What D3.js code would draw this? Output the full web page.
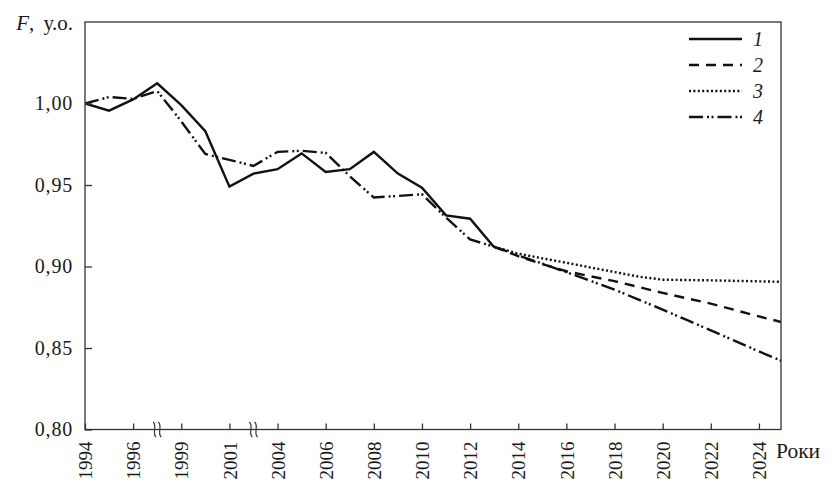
<!DOCTYPE html>
<html>
<head>
<meta charset="utf-8">
<script src="https://cdn.jsdelivr.net/npm/d3@7"></script>
<style>
  body { margin: 0; background: #fff; }
  svg { display: block; }
  text { font-family: "Liberation Serif", "DejaVu Serif", serif; fill: #1a1a1a; }
</style>
</head>
<body>
<svg id="chart" width="827" height="481"></svg>
<script>
// Year slots along the x axis (1998 and 2003 are cut out by axis breaks)
const years = ["1994","1995","1996","1997","1999","2000","2001","2002","2004","2005",
               "2006","2007","2008","2009","2010","2011","2012","2013","2014","2015",
               "2016","2017","2018","2019","2020","2021","2022","2023","2024","2025"];
const tickYears = ["1994","1996","1999","2001","2004","2006","2008","2010","2012",
                   "2014","2016","2018","2020","2022","2024"];
const breakYears = ["1997","2002"];
const yTicks = [0.80, 0.85, 0.90, 0.95, 1.00];

// Series 1: actual values (solid)
const series1 = [1.000, 0.9956, 1.0025, 1.0124, 0.999, 0.983, 0.949, 0.957, 0.9597, 0.9694,
                 0.958, 0.9597, 0.9703, 0.957, 0.9484, 0.9314, 0.9293, 0.9118,
                 null, null, null, null, null, null, null, null, null, null, null, null];
// Series 2: forecast (dashed)
const series2 = [null, null, null, null, null, null, null, null, null, null,
                 null, null, null, null, null, null, null, 0.9121, 0.9063, 0.9015,
                 0.8971, 0.8940, 0.8910, 0.8874, 0.8838, 0.8805, 0.8772, 0.8733, 0.8694, 0.8657];
// Series 3: forecast (dotted)
const series3 = [null, null, null, null, null, null, null, null, null, null,
                 null, null, null, null, null, null, null, 0.9121, 0.9079, 0.9050,
                 0.9023, 0.8994, 0.8966, 0.8938, 0.8919, 0.8917, 0.8915, 0.8912, 0.8909, 0.8906];
// Series 4: model + forecast (dash-dot)
const series4 = [1.000, 1.004, 1.0028, 1.0077, 0.989, 0.969, 0.9654, 0.9617, 0.9703, 0.971,
                 0.9697, 0.9554, 0.9423, 0.9433, 0.9443, 0.930, 0.9166, 0.9121, 0.9068, 0.9018,
                 0.8965, 0.8912, 0.8858, 0.8797, 0.8735, 0.8672, 0.8608, 0.8544, 0.8479, 0.8417];
const seriesNames = ["1", "2", "3", "4"];

const svg = d3.select("#chart");
const pLeft = 85, pRight = 781, pTop = 22, pBottom = 429.5;

const x = d3.scalePoint().domain(years).range([85, 783]);
const y = d3.scaleLinear().domain([0.80, 1.05]).range([pBottom, pTop]);

const ink = "#111";
const styles = [
  { dash: null },
  { dash: "10,7" },
  { dash: "2,2.4" },
  { dash: "14,4,2,2.5,2,4" }
];

svg.append("defs").append("clipPath").attr("id", "plot")
  .append("rect").attr("x", pLeft).attr("y", pTop).attr("width", pRight - pLeft).attr("height", pBottom - pTop);

// data lines
const allSeries = [series1, series2, series3, series4];
const line = d3.line()
  .defined(d => d.v != null)
  .x(d => x(d.year))
  .y(d => y(d.v));

const g = svg.append("g").attr("clip-path", "url(#plot)");
allSeries.forEach((s, i) => {
  const pts = years.map((yr, k) => ({ year: yr, v: s[k] }));
  g.append("path")
    .attr("d", line(pts))
    .attr("fill", "none")
    .attr("stroke", ink)
    .attr("stroke-width", 2.4)
    .attr("stroke-linejoin", "miter")
    .attr("stroke-dasharray", styles[i].dash);
});

// frame
svg.append("rect")
  .attr("x", pLeft).attr("y", pTop).attr("width", pRight - pLeft).attr("height", pBottom - pTop)
  .attr("fill", "none").attr("stroke", "#333").attr("stroke-width", 1.3);

// y axis
const yAxis = svg.append("g").attr("transform", `translate(${pLeft},0)`)
  .call(d3.axisLeft(y).tickValues(yTicks).tickSize(-7).tickPadding(12)
        .tickFormat(d => d3.format(".2f")(d).replace(".", ",")));
yAxis.select(".domain").remove();
yAxis.selectAll("line").attr("stroke", "#333").attr("stroke-width", 1.3);
yAxis.selectAll("text").style("font-size", "20px").attr("fill", ink)
  .style("letter-spacing", "0.8px")
  .attr("font-family", "Liberation Serif");

// x axis
const xAxis = svg.append("g").attr("transform", `translate(0,${pBottom})`)
  .call(d3.axisBottom(x).tickValues(tickYears).tickSize(-6));
xAxis.select(".domain").remove();
xAxis.selectAll("line").attr("stroke", "#333").attr("stroke-width", 1.3);
xAxis.selectAll("text")
  .attr("y", 0).attr("x", -12).attr("dy", "0.35em")
  .attr("transform", "rotate(-90)")
  .attr("text-anchor", "end")
  .style("font-size", "19px").attr("fill", ink)
  .attr("font-family", "Liberation Serif");

// axis break marks
breakYears.forEach(yr => {
  const bx = x(yr);
  [-2.6, 2.6].forEach(off => {
    const cx = bx + off;
    svg.append("path")
      .attr("d", `M${cx - 1.5},${pBottom - 7.5} C${cx + 3},${pBottom - 4} ${cx - 3},${pBottom + 4} ${cx + 1.5},${pBottom + 7.5}`)
      .attr("fill", "none").attr("stroke", "#333").attr("stroke-width", 1.2);
  });
});

// axis titles
const yt = svg.append("text").attr("x", 73).attr("y", 30).attr("text-anchor", "end")
  .style("font-size", "21px").style("word-spacing", "4px");
yt.append("tspan").attr("font-style", "italic").text("F");
yt.append("tspan").text(", у.о.");

svg.append("text").attr("x", 776).attr("y", 458).style("font-size", "21.5px").text("Роки");

// legend
const legendY = [39, 65, 91, 117];
seriesNames.forEach((name, i) => {
  svg.append("line")
    .attr("x1", 689).attr("x2", 742).attr("y1", legendY[i]).attr("y2", legendY[i])
    .attr("stroke", ink).attr("stroke-width", 2.4)
    .attr("stroke-dasharray", styles[i].dash);
  svg.append("text").attr("x", 753).attr("y", legendY[i] + 7)
    .attr("font-style", "italic").style("font-size", "20px").text(name);
});
</script>
</body>
</html>
